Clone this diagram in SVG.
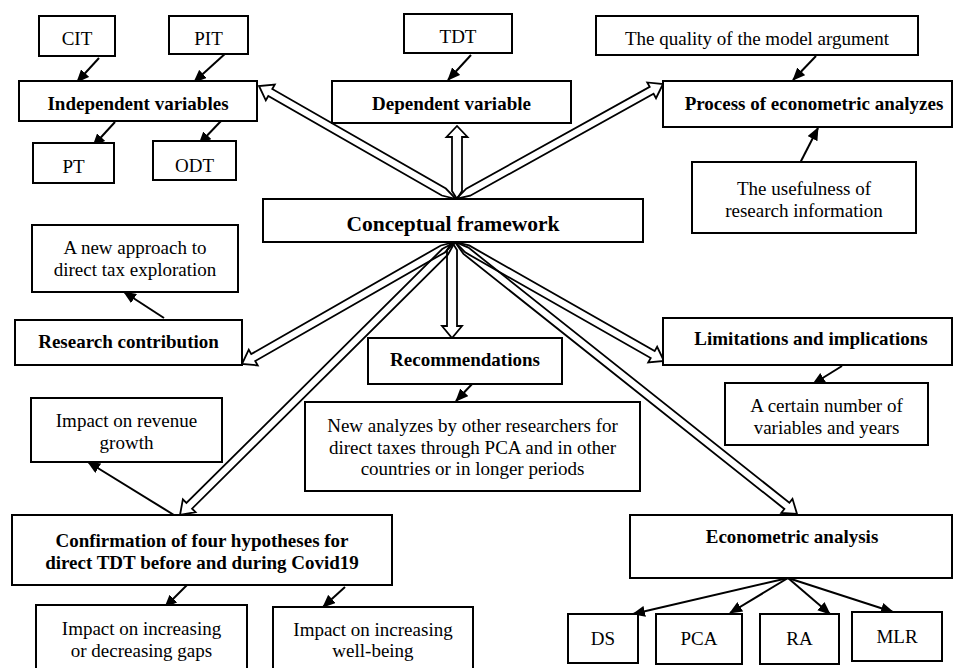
<svg xmlns="http://www.w3.org/2000/svg" width="953" height="668" viewBox="0 0 953 668">
<defs>
<style>
.box{fill:#fff;stroke:#000;stroke-width:2}
.t{font-family:"Liberation Serif","Times New Roman",serif;font-size:19px;fill:#000;text-anchor:middle}
.b{font-weight:bold}
.arr{stroke:#000;stroke-width:2;fill:none;marker-end:url(#ah)}
.dbl{fill:none;stroke:#000;stroke-width:1.8;stroke-linejoin:miter}
</style>
<marker id="ah" markerUnits="userSpaceOnUse" markerWidth="13" markerHeight="11" refX="12" refY="5.5" orient="auto">
<path d="M0,0 L13,5.5 L0,11 z" fill="#000"/>
</marker>
</defs>
<rect width="953" height="668" fill="#fff"/>
<g id="connectors">
<polygon class="dbl" transform="translate(456,199) rotate(-150.16)" points="0,0 14,-4 214.1,-4 214.1,-9 227.1,0 214.1,9 214.1,4 14,4"/>
<polygon class="dbl" transform="translate(457,199) rotate(-90)" points="0,0 8,-5 62,-5 62,-10.5 73,0 62,10.5 62,5 8,5"/>
<polygon class="dbl" transform="translate(456,199) rotate(-29.05)" points="0,0 14,-4 223.8,-4 223.8,-9 236.8,0 223.8,9 223.8,4 14,4"/>
<polygon class="dbl" transform="translate(455,242) rotate(150.2)" points="0,0 14,-4 232.5,-4 232.5,-9 245.5,0 232.5,9 232.5,4 14,4"/>
<polygon class="dbl" transform="translate(452,242) rotate(90)" points="0,0 8,-5 84,-5 84,-10 96,0 84,10 84,5 8,5"/>
<polygon class="dbl" transform="translate(455,242) rotate(29.66)" points="0,0 14,-4 227.5,-4 227.5,-9 240.5,0 227.5,9 227.5,4 14,4"/>
<polygon class="dbl" transform="translate(455,242) rotate(135.21)" points="0,0 14,-4 374.5,-4 374.5,-9 387.5,0 374.5,9 374.5,4 14,4"/>
<polygon class="dbl" transform="translate(455,242) rotate(38.49)" points="0,0 14,-4 424,-4 424,-9 437,0 424,9 424,4 14,4"/>
<line class="arr" x1="99" y1="58" x2="77" y2="82"/>
<line class="arr" x1="227" y1="52" x2="194" y2="82"/>
<line class="arr" x1="115" y1="122" x2="93" y2="146"/>
<line class="arr" x1="221" y1="121" x2="199" y2="144"/>
<line class="arr" x1="471" y1="55" x2="448" y2="80"/>
<line class="arr" x1="816" y1="56" x2="793" y2="80"/>
<line class="arr" x1="799" y1="165" x2="818" y2="128"/>
<line class="arr" x1="164" y1="318" x2="124" y2="292"/>
<line class="arr" x1="174" y1="515" x2="88" y2="462"/>
<line class="arr" x1="473" y1="383" x2="456" y2="401"/>
<line class="arr" x1="842" y1="366" x2="813" y2="384"/>
<line class="arr" x1="187" y1="585" x2="165" y2="607"/>
<line class="arr" x1="345" y1="587" x2="323" y2="607"/>
<line class="arr" x1="788" y1="578" x2="633" y2="614"/>
<line class="arr" x1="788" y1="578" x2="730" y2="613"/>
<line class="arr" x1="788" y1="578" x2="830" y2="614"/>
<line class="arr" x1="788" y1="578" x2="893" y2="612"/>
</g>
<g id="n-cit"><rect class="box" x="39" y="16" width="76" height="40"/><text class="t" x="77" y="45">CIT</text></g>
<g id="n-pit"><rect class="box" x="169" y="16" width="79" height="38"/><text class="t" x="208.5" y="45">PIT</text></g>
<g id="n-indep"><rect class="box" x="19" y="81" width="238" height="40"/><text class="t b" x="138" y="110">Independent variables</text></g>
<g id="n-pt"><rect class="box" x="33" y="143" width="81" height="40"/><text class="t" x="73.5" y="172.5">PT</text></g>
<g id="n-odt"><rect class="box" x="153" y="141" width="83" height="39"/><text class="t" x="194.5" y="171.5">ODT</text></g>
<g id="n-tdt"><rect class="box" x="404" y="14" width="108" height="39"/><text class="t" x="458" y="43">TDT</text></g>
<g id="n-dep"><rect class="box" x="332" y="81" width="239" height="42"/><text class="t b" x="451.5" y="110">Dependent variable</text></g>
<g id="n-quality"><rect class="box" x="596" y="16" width="322" height="39"/><text class="t" x="757" y="45">The quality of the model argument</text></g>
<g id="n-process"><rect class="box" x="663" y="81" width="289" height="46"/><text class="t b" x="814" y="110">Process of econometric analyzes</text></g>
<g id="n-useful"><rect class="box" x="692" y="162" width="224" height="71"/><text class="t" x="804" y="195">The usefulness of</text><text class="t" x="804" y="216.5">research information</text></g>
<g id="n-concept"><rect class="box" x="263" y="199" width="380" height="43"/><text class="t b" x="453" y="230.5" style="font-size:21.5px">Conceptual framework</text></g>
<g id="n-newapp"><rect class="box" x="32" y="225" width="206" height="67"/><text class="t" x="135" y="253.5">A new approach to</text><text class="t" x="135" y="276">direct tax exploration</text></g>
<g id="n-research"><rect class="box" x="15" y="320" width="227" height="45"/><text class="t b" x="128.5" y="347.5">Research contribution</text></g>
<g id="n-rec"><rect class="box" x="368" y="338" width="194" height="46"/><text class="t b" x="465" y="366">Recommendations</text></g>
<g id="n-limit"><rect class="box" x="663" y="318" width="289" height="47"/><text class="t b" x="811" y="345">Limitations and implications</text></g>
<g id="n-certain"><rect class="box" x="725" y="383" width="203" height="62"/><text class="t" x="826.5" y="411.5">A certain number of</text><text class="t" x="826.5" y="433.5">variables and years</text></g>
<g id="n-revenue"><rect class="box" x="31" y="398" width="191" height="64"/><text class="t" x="126.5" y="426.5">Impact on revenue</text><text class="t" x="126.5" y="448.5">growth</text></g>
<g id="n-newan"><rect class="box" x="305" y="402" width="335" height="89"/><text class="t" x="472.5" y="431.5">New analyzes by other researchers for</text><text class="t" x="472.5" y="453.5">direct taxes through PCA and in other</text><text class="t" x="472.5" y="475">countries or in longer periods</text></g>
<g id="n-confirm"><rect class="box" x="12" y="515" width="380" height="70"/><text class="t b" x="202" y="546.5">Confirmation of four hypotheses for</text><text class="t b" x="202" y="568.5">direct TDT before and during Covid19</text></g>
<g id="n-econ"><rect class="box" x="630" y="515" width="322" height="63"/><text class="t b" x="792" y="542.5">Econometric analysis</text></g>
<g id="n-gaps"><rect class="box" x="36" y="605" width="211" height="70"/><text class="t" x="141.5" y="635">Impact on increasing</text><text class="t" x="141.5" y="657">or decreasing gaps</text></g>
<g id="n-well"><rect class="box" x="273" y="607" width="200" height="70"/><text class="t" x="373" y="636">Impact on increasing</text><text class="t" x="373" y="657">well-being</text></g>
<g id="n-ds"><rect class="box" x="568" y="614" width="70" height="49"/><text class="t" x="603" y="645">DS</text></g>
<g id="n-pca"><rect class="box" x="656" y="614" width="86" height="50"/><text class="t" x="699" y="645">PCA</text></g>
<g id="n-ra"><rect class="box" x="760" y="614" width="79" height="50"/><text class="t" x="799.5" y="645">RA</text></g>
<g id="n-mlr"><rect class="box" x="852" y="612" width="90" height="49"/><text class="t" x="897" y="643">MLR</text></g>
</svg>
